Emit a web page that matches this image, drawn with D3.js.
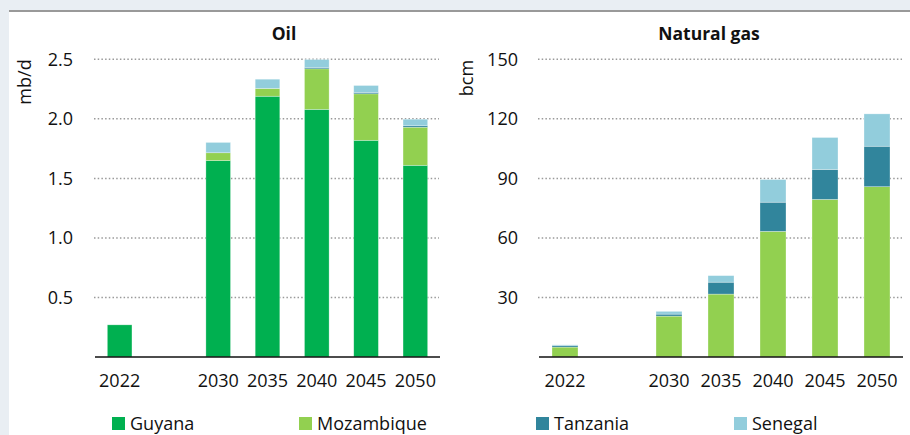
<!DOCTYPE html>
<html>
<head>
<meta charset="utf-8">
<script src="https://cdn.jsdelivr.net/npm/d3@7"></script>
<style>
  html, body { margin: 0; padding: 0; background: #e9eef3; }
  svg { display: block; font-family: "Open Sans", Lato, sans-serif; }
</style>
</head>
<body>
<svg id="chart" width="910" height="435"></svg>
<script>
// Category slots (the blank slot leaves the gap between 2022 and 2030)
const slots = ["2022", "gap", "2030", "2035", "2040", "2045", "2050"];
const dataYears = ["2022", "2030", "2035", "2040", "2045", "2050"];

const countries = ["Guyana", "Mozambique", "Tanzania", "Senegal"];
const colors = ["#00b050", "#92d050", "#31859c", "#92cddc"];

// Oil production, mb/d
const oilGuyana     = [0.27, 1.65, 2.19, 2.08, 1.82, 1.61];
const oilMozambique = [0,    0.065, 0.065, 0.34, 0.39, 0.32];
const oilTanzania   = [0,    0,    0,    0.012, 0.012, 0.012];
const oilSenegal    = [0,    0.087, 0.078, 0.066, 0.058, 0.055];
const oilTicks = [0.5, 1.0, 1.5, 2.0, 2.5];

// Natural gas production, bcm
const gasGuyana     = [0, 0, 0, 0, 0, 0];
const gasMozambique = [5.0, 20.6, 31.7, 63.3, 79.4, 85.8];
const gasTanzania   = [0.8, 1.0, 6.0, 14.7, 15.1, 20.4];
const gasSenegal    = [0.3, 1.4, 3.3, 11.4, 16.1, 16.3];
const gasTicks = [30, 60, 90, 120, 150];

const svg = d3.select("#chart");

// white panel with grey rule along the top
svg.append("rect").attr("x", 9).attr("y", 11).attr("width", 901).attr("height", 424).attr("fill", "#fff");
svg.append("line").attr("x1", 9).attr("x2", 910).attr("y1", 11).attr("y2", 11)
  .attr("stroke", "#999").attr("stroke-width", 2);

function panel(cfg) {
  const g = svg.append("g");
  const x = d3.scaleBand().domain(slots).range([cfg.x0, cfg.x1]).paddingInner(0.5).paddingOuter(0.25);
  const y = d3.scaleLinear().domain([0, cfg.max]).range([cfg.yBase, cfg.yTop]);

  // dotted gridlines
  g.selectAll("line.grid").data(cfg.ticks).join("line")
    .attr("x1", cfg.x0 - 1).attr("x2", cfg.x1 - 1)
    .attr("y1", d => y(d)).attr("y2", d => y(d))
    .attr("stroke", "#9a9a9a").attr("stroke-width", 1.5)
    .attr("stroke-dasharray", "1.5,2.2");

  // y tick labels
  g.selectAll("text.tick").data(cfg.ticks).join("text")
    .attr("x", cfg.tickX).attr("y", d => y(d)).attr("dy", "0.36em")
    .attr("text-anchor", "end").attr("font-size", 18).attr("fill", "#111")
    .text(cfg.fmt);

  // stacked bars
  const rows = dataYears.map((yr, i) => {
    const r = { year: yr };
    countries.forEach((c, k) => r[c] = cfg.series[k][i]);
    return r;
  });
  const stacked = d3.stack().keys(countries)(rows);
  stacked.forEach((layer, k) => {
    g.append("g").selectAll("rect").data(layer.filter(d => d[1] - d[0] > 0)).join("rect")
      .attr("x", d => x(d.data.year))
      .attr("width", x.bandwidth())
      .attr("y", d => y(d[1]))
      .attr("height", d => y(d[0]) - y(d[1]))
      .attr("fill", colors[k])
      .attr("stroke", "#fff").attr("stroke-width", 0.6).attr("stroke-opacity", 0.5);
  });

  // baseline
  g.append("line").attr("x1", cfg.x0).attr("x2", cfg.x1)
    .attr("y1", y(0)).attr("y2", y(0)).attr("stroke", "#111").attr("stroke-width", 1.5);

  // x labels
  g.selectAll("text.xl").data(dataYears).join("text")
    .attr("x", d => x(d) + x.bandwidth() / 2).attr("y", 387)
    .attr("text-anchor", "middle").attr("font-size", 18).attr("fill", "#111")
    .text(d => d);

  // title
  g.append("text").attr("x", cfg.titleX).attr("y", 40).attr("text-anchor", "middle")
    .attr("font-size", 17.5).attr("font-weight", "bold").attr("fill", "#111").text(cfg.title);

  // unit label
  g.append("text").attr("transform", `translate(${cfg.unitX},${cfg.unitY}) rotate(-90)`)
    .attr("text-anchor", "middle").attr("dy", "0.35em")
    .attr("font-size", 18).attr("fill", "#111").text(cfg.unit);
}

panel({
  x0: 95, x1: 440, yBase: 357, yTop: 59.3, max: 2.5,
  ticks: oilTicks, fmt: d => d3.format(".1f")(d), tickX: 73,
  series: [oilGuyana, oilMozambique, oilTanzania, oilSenegal],
  title: "Oil", titleX: 284, unit: "mb/d", unitX: 25, unitY: 82
});

panel({
  x0: 539, x1: 903, yBase: 357, yTop: 59.3, max: 150,
  ticks: gasTicks, fmt: d => d, tickX: 518,
  series: [gasGuyana, gasMozambique, gasTanzania, gasSenegal],
  title: "Natural gas", titleX: 709, unit: "bcm", unitX: 467, unitY: 78
});

// legend
const legendX = [112, 299, 536, 734];
const leg = svg.append("g").selectAll("g").data(countries).join("g")
  .attr("transform", (d, i) => `translate(${legendX[i]},417)`);
leg.append("rect").attr("width", 13).attr("height", 13).attr("fill", (d, i) => colors[i]);
leg.append("text").attr("x", 18).attr("y", 13).attr("font-size", 18).attr("fill", "#111").text(d => d);
</script>
</body>
</html>
